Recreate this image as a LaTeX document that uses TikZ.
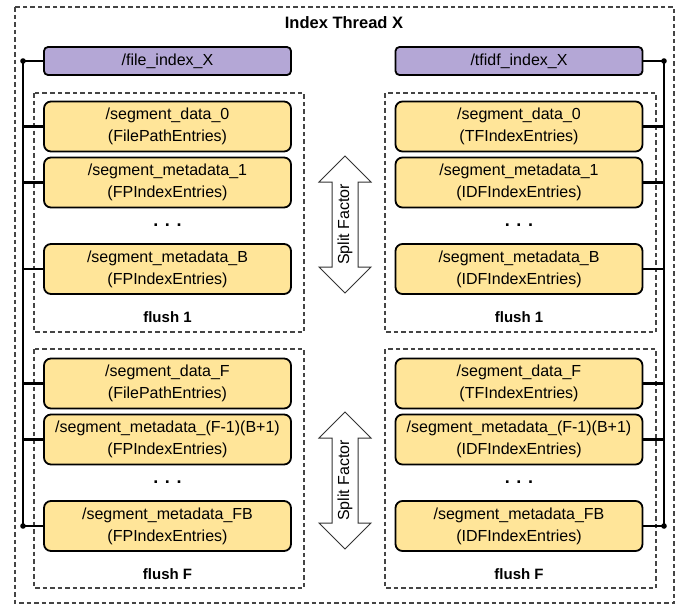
\documentclass[tikz,border=0pt]{standalone}
\usepackage{fontspec}
\setmainfont{Liberation Sans}
\definecolor{purplebox}{HTML}{B4A7D6}
\definecolor{yellowbox}{HTML}{FFE599}
\definecolor{dashgray}{HTML}{444444}
\tikzset{
  txt/.style={font=\fontsize{16}{22}\selectfont, align=center},
  pbox/.style={txt, draw=black, line width=1.8pt, fill=purplebox, rounded corners=4pt, minimum width=247pt, minimum height=28pt, inner sep=0pt},
  ybox/.style={txt, draw=black, line width=1.8pt, fill=yellowbox, rounded corners=7pt, minimum width=247pt, minimum height=50pt, inner sep=0pt},
  dbox/.style={draw=dashgray, line width=1.2pt, dash pattern=on 4.5pt off 3pt},
  bus/.style={draw=black, line width=2.3pt},
  lbl/.style={font=\fontsize{15}{18}\selectfont\bfseries},
  dotsl/.style={font=\fontsize{18}{18}\selectfont\bfseries},
  splitarrow/.style={draw=black!80, line width=1pt, fill=white, line join=miter},
}
\begin{document}
\begin{tikzpicture}[x=1pt,y=-1pt]
\useasboundingbox (0,0) rectangle (683,606);
% outer
\draw[dbox] (15,7) rectangle (674,603);
\node[font=\fontsize{16.5}{18}\selectfont\bfseries] (title) at (344,23) {Index Thread X};
% flush boxes
\draw[dbox] (34,93) rectangle (304,332);
\draw[dbox] (34,349) rectangle (304,588);
\draw[dbox] (385,93) rectangle (656,332);
\draw[dbox] (385,349) rectangle (656,588);
% left column
\node[pbox] (lp) at (167.5,61) {/file\_index\_X};
\node[ybox] (l0) at (167.5,126.5) {/segment\_data\_0\\(FilePathEntries)};
\node[ybox] (l1) at (167.5,182.5) {/segment\_metadata\_1\\(FPIndexEntries)};
\node[dotsl] (ld1) at (167.5,225) {. . .};
\node[ybox] (lB) at (167.5,269) {/segment\_metadata\_B\\(FPIndexEntries)};
\node[lbl] (lf1) at (167.5,317) {flush 1};
\node[ybox] (lF) at (167.5,383.5) {/segment\_data\_F\\(FilePathEntries)};
\node[ybox] (lF1) at (167.5,439.5) {/segment\_metadata\_(F-1)(B+1)\\(FPIndexEntries)};
\node[dotsl] (ld2) at (167.5,482) {. . .};
\node[ybox] (lFB) at (167.5,526) {/segment\_metadata\_FB\\(FPIndexEntries)};
\node[lbl] (lfF) at (167.5,574) {flush F};
% right column
\node[pbox] (rp) at (519,61) {/tfidf\_index\_X};
\node[ybox] (r0) at (519,126.5) {/segment\_data\_0\\(TFIndexEntries)};
\node[ybox] (r1) at (519,182.5) {/segment\_metadata\_1\\(IDFIndexEntries)};
\node[dotsl] (rd1) at (519,225) {. . .};
\node[ybox] (rB) at (519,269) {/segment\_metadata\_B\\(IDFIndexEntries)};
\node[lbl] (rf1) at (519,317) {flush 1};
\node[ybox] (rF) at (519,383.5) {/segment\_data\_F\\(TFIndexEntries)};
\node[ybox] (rF1) at (519,439.5) {/segment\_metadata\_(F-1)(B+1)\\(IDFIndexEntries)};
\node[dotsl] (rd2) at (519,482) {. . .};
\node[ybox] (rFB) at (519,526) {/segment\_metadata\_FB\\(IDFIndexEntries)};
\node[lbl] (rfF) at (519,574) {flush F};
% buses
\coordinate (lbt) at (23,61);
\coordinate (lbb) at (23,526);
\coordinate (rbt) at (664,61);
\coordinate (rbb) at (664,526);
\draw[bus] (lbt) -- (lbb);
\draw[bus] (rbt) -- (rbb);
\foreach \n in {lp,l0,l1,lB,lF,lF1,lFB}{
  \draw[bus] (\n.west) -- (\n.west -| lbt);
}
\foreach \n in {rp,r0,r1,rB,rF,rF1,rFB}{
  \draw[bus] (\n.east) -- (\n.east -| rbt);
}
\fill (lbt) circle (2.8pt);
\fill (lbb) circle (2.8pt);
\fill (rbt) circle (2.8pt);
\fill (rbb) circle (2.8pt);
% split factor arrows
\draw[splitarrow] (345,156) -- (371,182) -- (358,182) -- (358,267) -- (371,267) -- (345,293) -- (319,267) -- (332,267) -- (332,182) -- (319,182) -- cycle;
\node[txt, rotate=90] (sf1) at (345,224.5) {Split Factor};
\draw[splitarrow] (345,412) -- (371,438) -- (358,438) -- (358,523) -- (371,523) -- (345,549) -- (319,523) -- (332,523) -- (332,438) -- (319,438) -- cycle;
\node[txt, rotate=90] (sf2) at (345,480.5) {Split Factor};
\end{tikzpicture}
\end{document}
